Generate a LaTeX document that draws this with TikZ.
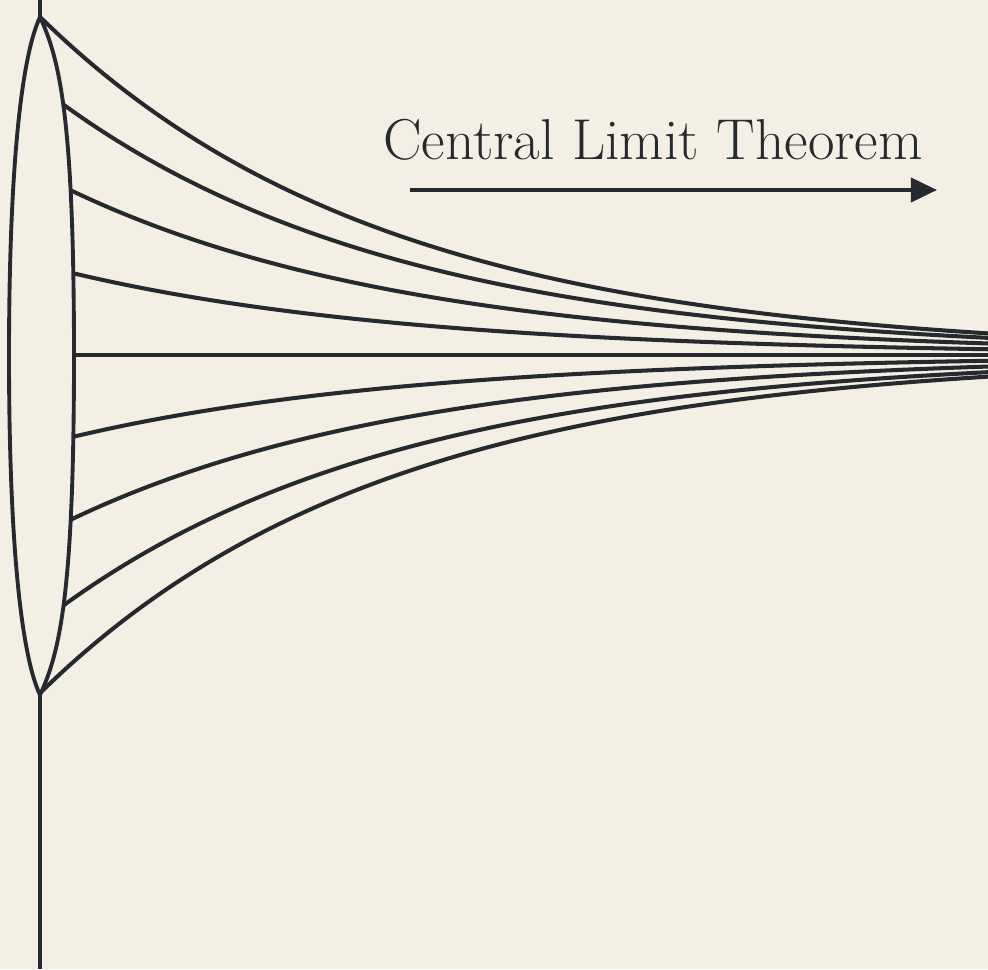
\documentclass[tikz,border=0pt]{standalone}
\usetikzlibrary{arrows.meta}
\definecolor{paper}{RGB}{243,239,229}
\definecolor{ink}{RGB}{38,42,46}
\begin{document}
\begin{tikzpicture}[x=0.01cm, y=-0.01cm,
    fan/.style={draw=ink, line width=1.15pt},
    lens/.style={draw=ink, line width=1.1pt, fill=paper},
    flow/.style={draw=ink, line width=1.1pt, -{Triangle[length=2.6mm, width=2.4mm]}},
    label/.style={font=\fontsize{16.4}{19}\selectfont, text=ink}
  ]
    \fill[paper] (0,0) rectangle (988,969);
    \useasboundingbox (0,0) rectangle (988,969);

    % axis behind the lens
    \draw[fan] (40,0) -- (40,969);

    % fan of curves, starting inside the lens
    \foreach \d in {-338,-268,-180,-90,0,90,180,268,338}
      \draw[fan] plot[domain=40:988, samples=90, smooth]
        (\x, {355 + \d*exp(-0.0029*(\x-40))});

    % lens covers the starts
    \draw[lens] (40,17) .. controls (20,60) and (9,180) .. (9,356)
      .. controls (9,532) and (20,652) .. (40,695)
      .. controls (60,652) and (74,592) .. (74,356)
      .. controls (74,120) and (60,60) .. (40,17) -- cycle;

    \node[label] (clt) at (653,140) {Central Limit Theorem};
    \coordinate (flowstart) at (410,190);
    \coordinate (flowend) at (937,190);
    \draw[flow] (flowstart) -- (flowend);
  \end{tikzpicture}
\end{document}
